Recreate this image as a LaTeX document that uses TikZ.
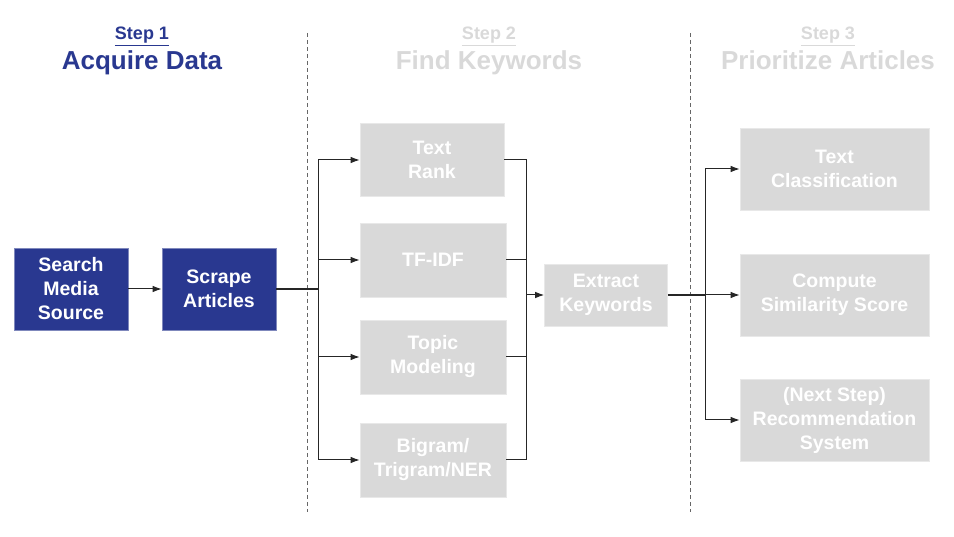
\documentclass[tikz,border=0pt]{standalone}
\usepackage{fontspec}
\setmainfont{Liberation Sans}
\usetikzlibrary{arrows.meta}
\definecolor{stepblue}{RGB}{41,56,144}
\definecolor{stepgrey}{RGB}{217,217,217}
\tikzset{
  bluebox/.style={rectangle, fill=stepblue, draw=stepblue!60!white, line width=0.6pt,
    text=white, font=\bfseries\fontsize{19.5}{24}\selectfont, align=center,
    minimum width=114pt, minimum height=82pt, inner sep=0pt},
  greybox/.style={rectangle, fill=stepgrey, draw=stepgrey!60!white, line width=0.6pt,
    text=white, font=\bfseries\fontsize{19.5}{24}\selectfont, align=center,
    minimum width=146pt, minimum height=74pt, inner sep=0pt},
  wide/.style={minimum width=189pt, minimum height=82pt},
  steplabel/.style={anchor=base, font=\bfseries\fontsize{18}{20}\selectfont},
  steptitle/.style={anchor=base, font=\bfseries\fontsize{26}{30}\selectfont},
  divider/.style={dash pattern=on 4pt off 3pt, black!60, line width=0.9pt},
  link/.style={black!85, line width=1pt}
}
\begin{document}
\begin{tikzpicture}[x=1pt, y=-1pt, >={Latex[length=9pt, width=6.5pt]}]
				\useasboundingbox (0,0) rectangle (954,537);
				% headers
				\node[steplabel, text=stepblue] (s1) at (142,40) {\underline{Step 1}};
				\node[steptitle, text=stepblue] (t1) at (142,70) {Acquire Data};
				\node[steplabel, text=stepgrey] (s2) at (489,40) {\underline{Step 2}};
				\node[steptitle, text=stepgrey] (t2) at (489,70) {Find Keywords};
				\node[steplabel, text=stepgrey] (s3) at (828,40) {\underline{Step 3}};
				\node[steptitle, text=stepgrey] (t3) at (828,70) {Prioritize Articles};
				\draw[divider] (307,33) -- (307,512);
				\draw[divider] (690,33) -- (690,512);
				% step 1
				\node[bluebox] (search) at (71,289) {Search\\Media\\Source};
				\node[bluebox] (scrape) at (219,289) {Scrape\\Articles};
				\draw[->, link] (search) -- (scrape);
				% step 2
				\node[greybox, minimum width=144pt, minimum height=73pt] (textrank) at (432,160) {Text\\Rank};
				\node[greybox] (tfidf) at (433,260) {TF-IDF};
				\node[greybox] (topic) at (433,357) {Topic\\Modeling};
				\node[greybox] (bigram) at (433,460) {Bigram/\\Trigram/NER};
				\node[greybox, minimum width=123pt, minimum height=62pt] (extract) at (606,295) {Extract\\Keywords};
				\coordinate (split1) at (318,289);
				\coordinate (merge) at (526,295);
				\draw[link, line width=1.6pt] (scrape) -- (split1);
				\foreach \n in {textrank,tfidf,topic,bigram}
					{
						\draw[->, link] (split1) |- (\n.west);
						\draw[link] (\n.east) -| (merge);
					}
				\draw[->, link] (merge) -- (extract);
				% step 3
				\node[greybox, wide] (classify) at (834.5,169) {Text\\Classification};
				\node[greybox, wide] (similar) at (834.5,295) {Compute\\Similarity Score};
				\node[greybox, wide] (recommend) at (834.5,420) {(Next Step)\\Recommendation\\System};
				\coordinate (split2) at (705,295);
				\draw[link, line width=1.6pt] (extract) -- (split2);
				\foreach \n in {classify,similar,recommend}
					{
						\draw[->, link] (split2) |- (\n.west);
					}
			\end{tikzpicture}
\end{document}
